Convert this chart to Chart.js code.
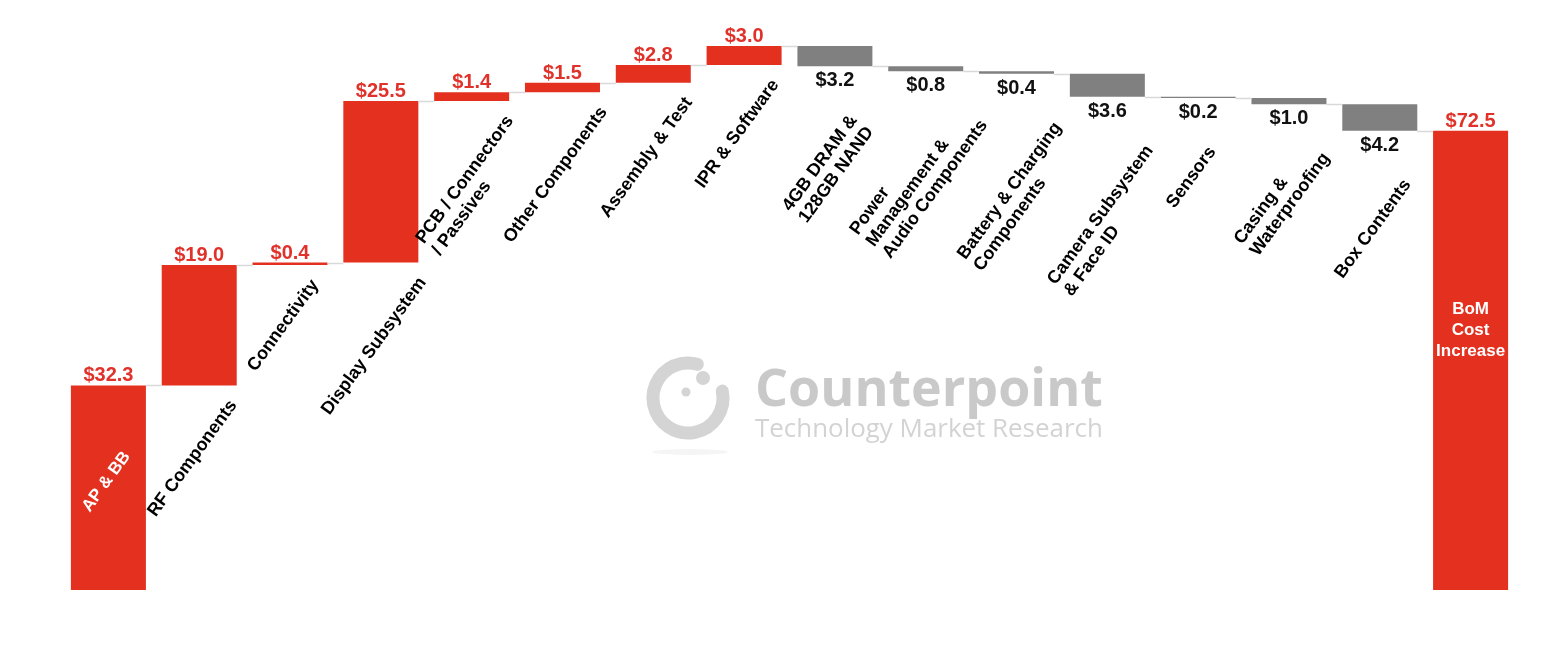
<!DOCTYPE html>
<html>
<head>
<meta charset="utf-8">
<title>BoM cost increase waterfall</title>
<script src="https://cdn.jsdelivr.net/npm/chart.js@4.4.1/dist/chart.umd.min.js"></script>
<style>
  html, body { margin: 0; padding: 0; background: #ffffff; }
  #wrap { width: 1542px; height: 668px; }
</style>
</head>
<body>
<div id="wrap"><canvas id="bomChart" width="1542" height="668"></canvas></div>
<script>
// category names, split in lines like on the slide
var categories = [
  ['AP & BB'],
  ['RF Components'],
  ['Connectivity'],
  ['Display Subsystem'],
  ['PCB / Connectors', '/ Passives'],
  ['Other Components'],
  ['Assembly & Test'],
  ['IPR & Software'],
  ['4GB DRAM &', '128GB NAND'],
  ['Power', 'Management &', 'Audio Components'],
  ['Battery & Charging', 'Components'],
  ['Camera Subsystem', '& Face ID'],
  ['Sensors'],
  ['Casing &', 'Waterproofing'],
  ['Box Contents'],
  ['BoM', 'Cost', 'Increase']
];

// cost change per component (US$), last bar is the total
var changes = [32.3, 19.0, 0.4, 25.5, 1.4, 1.5, 2.8, 3.0, -3.2, -0.8, -0.4, -3.6, -0.2, -1.0, -4.2];
var bomTotal = 72.5;

var RED = '#e3301f';
var RED_TEXT = '#e0322a';
var GREY = '#808080';
var LINK = '#d9d9d9';
var FONT = '"Liberation Sans", Arial, sans-serif';

// floating bars [from, to]
var run = 0;
var ranges = changes.map(function (v) {
  var r = [run, run + v];
  run += v;
  return r;
});
ranges.push([0, bomTotal]);
var amounts = changes.concat([bomTotal]);

var barColors = amounts.map(function (v) { return v >= 0 ? RED : GREY; });

var watermark = {
  id: 'watermark',
  beforeDatasetsDraw: function (chart) {
    var ctx = chart.ctx;
    ctx.save();
    // logo ring
    ctx.strokeStyle = '#d4d4d4';
    ctx.lineWidth = 13;
    ctx.lineCap = 'round';
    ctx.beginPath();
    ctx.arc(688, 398, 35, -0.2, Math.PI * 2 - 1.3);
    ctx.stroke();
    ctx.fillStyle = '#d4d4d4';
    ctx.beginPath();
    ctx.arc(703, 378, 7, 0, Math.PI * 2);
    ctx.fill();
    ctx.beginPath();
    ctx.arc(686, 392, 4.5, 0, Math.PI * 2);
    ctx.fill();
    // soft shadow under the logo
    ctx.fillStyle = 'rgba(0,0,0,0.04)';
    ctx.beginPath();
    ctx.ellipse(690, 452, 38, 3, 0, 0, Math.PI * 2);
    ctx.fill();

    // word mark
    ctx.textAlign = 'left';
    ctx.textBaseline = 'alphabetic';
    ctx.fillStyle = '#c9c9c9';
    var size = 56;
    ctx.font = 'bold ' + size + 'px "Open Sans", sans-serif';
    size = size * 348 / ctx.measureText('Counterpoint').width;
    ctx.font = 'bold ' + size + 'px "Open Sans", sans-serif';
    ctx.fillText('Counterpoint', 755, 406);
    ctx.fillStyle = '#d3d3d3';
    var s2 = 26;
    ctx.font = s2 + 'px "Open Sans", sans-serif';
    s2 = s2 * 348 / ctx.measureText('Technology Market Research').width;
    ctx.font = s2 + 'px "Open Sans", sans-serif';
    ctx.fillText('Technology Market Research', 755, 437);
    ctx.restore();
  }
};

var waterfallLabels = {
  id: 'waterfallLabels',
  afterDatasetsDraw: function (chart) {
    var ctx = chart.ctx;
    var y = chart.scales.y;
    var bars = chart.getDatasetMeta(0).data;
    var last = bars.length - 1;
    ctx.save();

    // connector lines between bars
    ctx.strokeStyle = LINK;
    ctx.lineWidth = 1.5;
    for (var i = 0; i < last; i++) {
      var level = ranges[i][1];
      var py = Math.round(y.getPixelForValue(level)) + 0.5;
      ctx.beginPath();
      ctx.moveTo(bars[i].x + bars[i].width / 2, py);
      ctx.lineTo(bars[i + 1].x - bars[i + 1].width / 2, py);
      ctx.stroke();
    }

    // value labels
    ctx.font = 'bold 20px ' + FONT;
    ctx.textAlign = 'center';
    bars.forEach(function (bar, i) {
      var v = amounts[i];
      var txt = '$' + Math.abs(v).toFixed(1);
      var hi = y.getPixelForValue(Math.max(ranges[i][0], ranges[i][1]));
      var lo = y.getPixelForValue(Math.min(ranges[i][0], ranges[i][1]));
      if (v >= 0) {
        ctx.fillStyle = RED_TEXT;
        ctx.textBaseline = 'alphabetic';
        ctx.fillText(txt, bar.x, hi - 4);
      } else {
        ctx.fillStyle = '#111111';
        ctx.textBaseline = 'alphabetic';
        ctx.fillText(txt, bar.x, lo + 20);
      }
    });

    // rotated category names under the bars
    var ang = -54 * Math.PI / 180;
    var ux = Math.cos(ang), uy = Math.sin(ang);
    var vx = -Math.sin(ang), vy = Math.cos(ang);
    var lineH = 20, capH = 13;
    ctx.font = 'bold 18px ' + FONT;
    ctx.fillStyle = '#000000';
    ctx.textAlign = 'left';
    ctx.textBaseline = 'alphabetic';
    for (var k = 1; k < last; k++) {
      var lines = categories[k];
      var bar = bars[k];
      var lo = y.getPixelForValue(Math.min(ranges[k][0], ranges[k][1]));
      var top = amounts[k] >= 0 ? lo + 12 : lo + 46;
      // screen box of the rotated block with origin at 0,0
      var minX = 1e9, maxX = -1e9, minY = 1e9;
      lines.forEach(function (ln, j) {
        var w = ctx.measureText(ln).width;
        [[0, j * lineH], [w, j * lineH], [0, j * lineH + capH], [w, j * lineH + capH]].forEach(function (p) {
          var sx = ux * p[0] + vx * p[1];
          var sy = uy * p[0] + vy * p[1];
          minX = Math.min(minX, sx); maxX = Math.max(maxX, sx);
          minY = Math.min(minY, sy);
        });
      });
      var ox = bar.x - 8 - (minX + maxX) / 2;
      var oy = top - minY;
      ctx.save();
      ctx.translate(ox, oy);
      ctx.rotate(ang);
      lines.forEach(function (ln, j) {
        ctx.fillText(ln, 0, j * lineH + capH);
      });
      ctx.restore();
    }

    // names written inside the first and the total bar
    ctx.fillStyle = '#ffffff';
    ctx.font = 'bold 17px ' + FONT;
    ctx.textAlign = 'center';
    ctx.textBaseline = 'middle';
    var b0 = bars[0];
    var t0 = y.getPixelForValue(ranges[0][1]), z0 = y.getPixelForValue(ranges[0][0]);
    ctx.save();
    ctx.translate(b0.x - 2, (t0 + z0) / 2 - 6);
    ctx.rotate(ang);
    ctx.fillText(categories[0][0], 0, 0);
    ctx.restore();

    var bt = bars[last];
    var tt = y.getPixelForValue(ranges[last][1]), zt = y.getPixelForValue(ranges[last][0]);
    var cy = tt + (zt - tt) * 0.435;
    var tl = categories[last];
    tl.forEach(function (ln, j) {
      ctx.fillText(ln, bt.x, cy + (j - (tl.length - 1) / 2) * 21);
    });
    ctx.restore();
  }
};

var ctx = document.getElementById('bomChart').getContext('2d');
var bomChart = new Chart(ctx, {
  type: 'bar',
  data: {
    labels: categories,
    datasets: [{
      label: 'BoM cost change',
      data: ranges,
      backgroundColor: barColors,
      borderWidth: 0,
      borderSkipped: false,
      barPercentage: 0.826,
      categoryPercentage: 1.0
    }]
  },
  options: {
    responsive: false,
    animation: false,
    layout: {
      padding: { left: 63, right: 26, top: 20, bottom: 78 }
    },
    plugins: {
      legend: { display: false },
      tooltip: { enabled: false },
      title: { display: false }
    },
    scales: {
      x: { display: false, grid: { display: false } },
      y: { display: false, min: 0, max: 90, grid: { display: false } }
    }
  },
  plugins: [watermark, waterfallLabels]
});
</script>
</body>
</html>
